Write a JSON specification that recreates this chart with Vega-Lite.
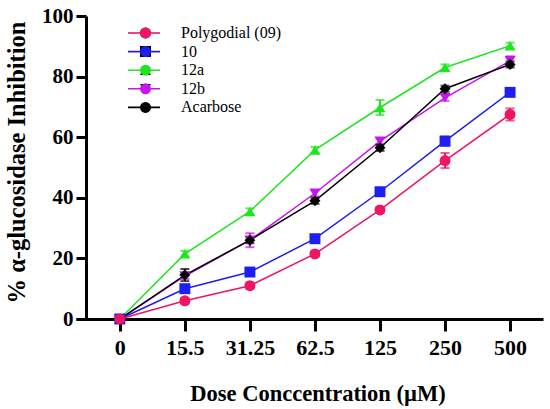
{
  "$schema": "https://vega.github.io/schema/vega-lite/v6.json",
  "width": 467,
  "height": 303,
  "autosize": {"type": "none"},
  "padding": {"left": 76, "top": 16, "right": 7, "bottom": 90},
  "background": "white",
  "config": {
    "view": {"stroke": null},
    "font": "Liberation Serif",
    "legend": {"labelFont": "Liberation Serif", "labelFontSize": 16, "labelColor": "black"}
  },
  "data": {
    "values": [
      {"series": "12a", "dose": "0", "value": 0, "err": 0.5},
      {"series": "12a", "dose": "15.5", "value": 21.5, "err": 1},
      {"series": "12a", "dose": "31.25", "value": 35.5, "err": 1},
      {"series": "12a", "dose": "62.5", "value": 55.8, "err": 1},
      {"series": "12a", "dose": "125", "value": 69.8, "err": 2.5},
      {"series": "12a", "dose": "250", "value": 83, "err": 1},
      {"series": "12a", "dose": "500", "value": 90.2, "err": 1},
      {"series": "12b", "dose": "0", "value": 0, "err": 0.5},
      {"series": "12b", "dose": "15.5", "value": 14.2, "err": 1},
      {"series": "12b", "dose": "31.25", "value": 26, "err": 2.3},
      {"series": "12b", "dose": "62.5", "value": 41.5, "err": 1},
      {"series": "12b", "dose": "125", "value": 58.7, "err": 1},
      {"series": "12b", "dose": "250", "value": 73, "err": 1},
      {"series": "12b", "dose": "500", "value": 85.2, "err": 1.5},
      {"series": "Acarbose", "dose": "0", "value": 0, "err": 0.5},
      {"series": "Acarbose", "dose": "15.5", "value": 14.5, "err": 2},
      {"series": "Acarbose", "dose": "31.25", "value": 26, "err": 1},
      {"series": "Acarbose", "dose": "62.5", "value": 39, "err": 1},
      {"series": "Acarbose", "dose": "125", "value": 56.5, "err": 1},
      {"series": "Acarbose", "dose": "250", "value": 76, "err": 1},
      {"series": "Acarbose", "dose": "500", "value": 84, "err": 1},
      {"series": "10", "dose": "0", "value": 0, "err": 0.5},
      {"series": "10", "dose": "15.5", "value": 10, "err": 1},
      {"series": "10", "dose": "31.25", "value": 15.5, "err": 1},
      {"series": "10", "dose": "62.5", "value": 26.5, "err": 1},
      {"series": "10", "dose": "125", "value": 42, "err": 1},
      {"series": "10", "dose": "250", "value": 58.7, "err": 1.5},
      {"series": "10", "dose": "500", "value": 74.8, "err": 1},
      {"series": "Polygodial (09)", "dose": "0", "value": 0, "err": 0.5},
      {"series": "Polygodial (09)", "dose": "15.5", "value": 6, "err": 1},
      {"series": "Polygodial (09)", "dose": "31.25", "value": 11, "err": 1},
      {"series": "Polygodial (09)", "dose": "62.5", "value": 21.5, "err": 1},
      {"series": "Polygodial (09)", "dose": "125", "value": 36, "err": 1},
      {"series": "Polygodial (09)", "dose": "250", "value": 52.3, "err": 2.5},
      {"series": "Polygodial (09)", "dose": "500", "value": 67.5, "err": 2}
    ]
  },
  "encoding": {
    "x": {
      "field": "dose",
      "type": "ordinal",
      "sort": ["0", "15.5", "31.25", "62.5", "125", "250", "500"],
      "scale": {"type": "point", "padding": 0.59, "align": 0.571},
      "axis": {
        "title": "Dose Conccentration (µM)",
        "labelAngle": 0,
        "labelFont": "Liberation Serif",
        "labelFontSize": 22,
        "labelFontWeight": "bold",
        "labelColor": "black",
        "labelPadding": 6,
        "tickSize": 12,
        "tickWidth": 3,
        "tickColor": "black",
        "domainColor": "black",
        "domainWidth": 3,
        "grid": false,
        "titleFont": "Liberation Serif",
        "titleFontSize": 22.5,
        "titleFontWeight": "bold",
        "titleColor": "black",
        "titleX": 241.5,
        "titleY": 81,
        "titleBaseline": "alphabetic",
        "titleAlign": "center"
      }
    },
    "y": {
      "field": "value",
      "type": "quantitative",
      "scale": {"domain": [0, 100]},
      "axis": {
        "title": "% α-glucosidase Inhibition",
        "values": [0, 20, 40, 60, 80, 100],
        "offset": -10,
        "labelFont": "Liberation Serif",
        "labelFontSize": 21,
        "labelFontWeight": "bold",
        "labelColor": "black",
        "labelPadding": 3,
        "tickSize": 10,
        "tickWidth": 3,
        "tickColor": "black",
        "domainColor": "black",
        "domainWidth": 3,
        "grid": false,
        "titleFont": "Liberation Serif",
        "titleFontSize": 24.5,
        "titleFontWeight": "bold",
        "titleColor": "black",
        "titlePadding": 12,
        "titleAlign": "center",
        "titleY": 146
      }
    }
  },
  "layer": [
    {
      "mark": {"type": "line", "strokeWidth": 1.5},
      "encoding": {
        "color": {
          "field": "series",
          "type": "nominal",
          "scale": {
            "domain": ["Polygodial (09)", "10", "12a", "12b", "Acarbose"],
            "range": ["#F01464", "#1E1EF0", "#1EE61E", "#C814F0", "#000000"]
          },
          "legend": {
            "title": null,
            "orient": "none",
            "legendX": 51,
            "legendY": 9,
            "padding": 0,
            "symbolType": "stroke",
            "symbolSize": 1024,
            "symbolStrokeWidth": 1.6,
            "clipHeight": 16,
            "rowPadding": 2.6,
            "labelFont": "Liberation Serif",
            "labelFontSize": 16,
            "labelColor": "black",
            "labelOffset": 20,
            "labelLimit": 200,
            "encode": {
              "symbols": {
                "update": {
                  "stroke": {"scale": "color", "field": "value"},
                  "strokeWidth": {"value": 1.6},
                  "fill": {"value": "transparent"},
                  "opacity": {"value": 1}
                }
              }
            }
          }
        }
      }
    },
    {
      "mark": {"type": "errorbar", "thickness": 2, "ticks": {"size": 9, "thickness": 2}},
      "encoding": {
        "yError": {"field": "err"},
        "color": {"field": "series", "type": "nominal"}
      }
    },
    {
      "mark": {"type": "point", "filled": true, "size": 120, "opacity": 1},
      "encoding": {
        "fill": {
          "field": "series",
          "type": "nominal",
          "sort": ["Polygodial (09)", "10", "12a", "12b", "Acarbose"],
          "scale": {"range": ["#F01464", "#1E1EF0", "#1EE61E", "#C814F0", "#000000"]},
          "legend": {
            "title": null,
            "orient": "none",
            "legendX": 61.5,
            "legendY": 9,
            "padding": 0,
            "symbolSize": 120,
            "symbolOpacity": 1,
            "clipHeight": 16,
            "rowPadding": 2.6,
            "labelExpr": "''"
          }
        },
        "shape": {
          "field": "series",
          "type": "nominal",
          "sort": ["Polygodial (09)", "10", "12a", "12b", "Acarbose"],
          "scale": {"range": ["circle", "square", "triangle-up", "triangle-down", "diamond"]},
          "legend": {
            "title": null,
            "orient": "none",
            "legendX": 61.5,
            "legendY": 9,
            "padding": 0,
            "symbolSize": 120,
            "symbolOpacity": 1,
            "clipHeight": 16,
            "rowPadding": 2.6,
            "labelExpr": "''"
          }
        }
      }
    }
  ]
}
